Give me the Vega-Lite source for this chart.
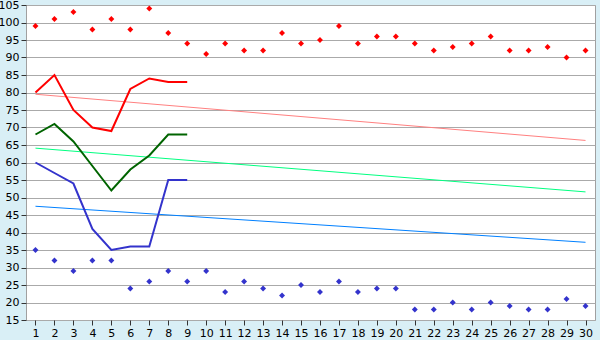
{
  "$schema": "https://vega.github.io/schema/vega-lite/v6.json",
  "width": 569,
  "height": 315,
  "autosize": "none",
  "padding": {"left": 26, "top": 5, "right": 5, "bottom": 20},
  "background": "#d9eff6",
  "view": {"fill": "white", "stroke": "#a0a0a0", "strokeWidth": 1},
  "config": {
    "font": "DejaVu Sans",
    "axis": {"labelFont": "DejaVu Sans", "labelFontSize": 11, "labelColor": "black", "tickColor": "#333", "domainColor": "#888", "titleFontSize": 0}
  },
  "datasets": {
    "pts": [
      {"x":1,"y":99,"s":"r"},{"x":2,"y":101,"s":"r"},{"x":3,"y":103,"s":"r"},{"x":4,"y":98,"s":"r"},{"x":5,"y":101,"s":"r"},
      {"x":6,"y":98,"s":"r"},{"x":7,"y":104,"s":"r"},{"x":8,"y":97,"s":"r"},{"x":9,"y":94,"s":"r"},{"x":10,"y":91,"s":"r"},
      {"x":11,"y":94,"s":"r"},{"x":12,"y":92,"s":"r"},{"x":13,"y":92,"s":"r"},{"x":14,"y":97,"s":"r"},{"x":15,"y":94,"s":"r"},
      {"x":16,"y":95,"s":"r"},{"x":17,"y":99,"s":"r"},{"x":18,"y":94,"s":"r"},{"x":19,"y":96,"s":"r"},{"x":20,"y":96,"s":"r"},
      {"x":21,"y":94,"s":"r"},{"x":22,"y":92,"s":"r"},{"x":23,"y":93,"s":"r"},{"x":24,"y":94,"s":"r"},{"x":25,"y":96,"s":"r"},
      {"x":26,"y":92,"s":"r"},{"x":27,"y":92,"s":"r"},{"x":28,"y":93,"s":"r"},{"x":29,"y":90,"s":"r"},{"x":30,"y":92,"s":"r"},
      {"x":1,"y":35,"s":"b"},{"x":2,"y":32,"s":"b"},{"x":3,"y":29,"s":"b"},{"x":4,"y":32,"s":"b"},{"x":5,"y":32,"s":"b"},
      {"x":6,"y":24,"s":"b"},{"x":7,"y":26,"s":"b"},{"x":8,"y":29,"s":"b"},{"x":9,"y":26,"s":"b"},{"x":10,"y":29,"s":"b"},
      {"x":11,"y":23,"s":"b"},{"x":12,"y":26,"s":"b"},{"x":13,"y":24,"s":"b"},{"x":14,"y":22,"s":"b"},{"x":15,"y":25,"s":"b"},
      {"x":16,"y":23,"s":"b"},{"x":17,"y":26,"s":"b"},{"x":18,"y":23,"s":"b"},{"x":19,"y":24,"s":"b"},{"x":20,"y":24,"s":"b"},
      {"x":21,"y":18,"s":"b"},{"x":22,"y":18,"s":"b"},{"x":23,"y":20,"s":"b"},{"x":24,"y":18,"s":"b"},{"x":25,"y":20,"s":"b"},
      {"x":26,"y":19,"s":"b"},{"x":27,"y":18,"s":"b"},{"x":28,"y":18,"s":"b"},{"x":29,"y":21,"s":"b"},{"x":30,"y":19,"s":"b"}
    ],
    "lines": [
      {"x":1,"y":80,"s":"red"},{"x":2,"y":85,"s":"red"},{"x":3,"y":75,"s":"red"},{"x":4,"y":70,"s":"red"},{"x":5,"y":69,"s":"red"},
      {"x":6,"y":81,"s":"red"},{"x":7,"y":84,"s":"red"},{"x":8,"y":83,"s":"red"},{"x":9,"y":83,"s":"red"},
      {"x":1,"y":68,"s":"green"},{"x":2,"y":71,"s":"green"},{"x":3,"y":66,"s":"green"},{"x":4,"y":59,"s":"green"},{"x":5,"y":52,"s":"green"},
      {"x":6,"y":58,"s":"green"},{"x":7,"y":62,"s":"green"},{"x":8,"y":68,"s":"green"},{"x":9,"y":68,"s":"green"},
      {"x":1,"y":60,"s":"blue"},{"x":2,"y":57,"s":"blue"},{"x":3,"y":54,"s":"blue"},{"x":4,"y":41,"s":"blue"},{"x":5,"y":35,"s":"blue"},
      {"x":6,"y":36,"s":"blue"},{"x":7,"y":36,"s":"blue"},{"x":8,"y":55,"s":"blue"},{"x":9,"y":55,"s":"blue"}
    ],
    "trend": [
      {"x":1,"y":79.5,"s":"tr"},{"x":30,"y":66.3,"s":"tr"},
      {"x":1,"y":64.1,"s":"tg"},{"x":30,"y":51.6,"s":"tg"},
      {"x":1,"y":47.5,"s":"tb"},{"x":30,"y":37.2,"s":"tb"}
    ]
  },
  "encoding": {
    "x": {"field": "x", "type": "ordinal", "scale": {"domain": [1,2,3,4,5,6,7,8,9,10,11,12,13,14,15,16,17,18,19,20,21,22,23,24,25,26,27,28,29,30], "paddingInner": 0, "paddingOuter": 0.5},
      "axis": {"title": null, "labelAngle": 0, "tickSize": 5, "domain": false, "labelPadding": 2}},
    "y": {"field": "y", "type": "quantitative", "scale": {"domain": [15, 105], "nice": false, "zero": false},
      "axis": {"title": null, "values": [15,20,25,30,35,40,45,50,55,60,65,70,75,80,85,90,95,100,105], "grid": true, "gridColor": "#aaaaaa", "tickSize": 5, "domain": false, "labelPadding": 2}}
  },
  "layer": [
    {
      "data": {"name": "trend"},
      "mark": {"type": "line", "strokeWidth": 1},
      "encoding": {"color": {"field": "s", "type": "nominal", "scale": {"domain": ["tr","tg","tb"], "range": ["#ff8080","#00ff80","#0080ff"]}, "legend": null}}
    },
    {
      "data": {"name": "lines"},
      "mark": {"type": "line", "strokeWidth": 2},
      "encoding": {"stroke": {"field": "s", "type": "nominal", "scale": {"domain": ["red","green","blue"], "range": ["#ff0000","#006400","#3333cc"]}, "legend": null}}
    },
    {
      "data": {"name": "pts"},
      "mark": {"type": "point", "shape": "diamond", "filled": true, "size": 35, "opacity": 1},
      "encoding": {"fill": {"field": "s", "type": "nominal", "scale": {"domain": ["r","b"], "range": ["#ff0000","#3333cc"]}, "legend": null}}
    }
  ]
}
